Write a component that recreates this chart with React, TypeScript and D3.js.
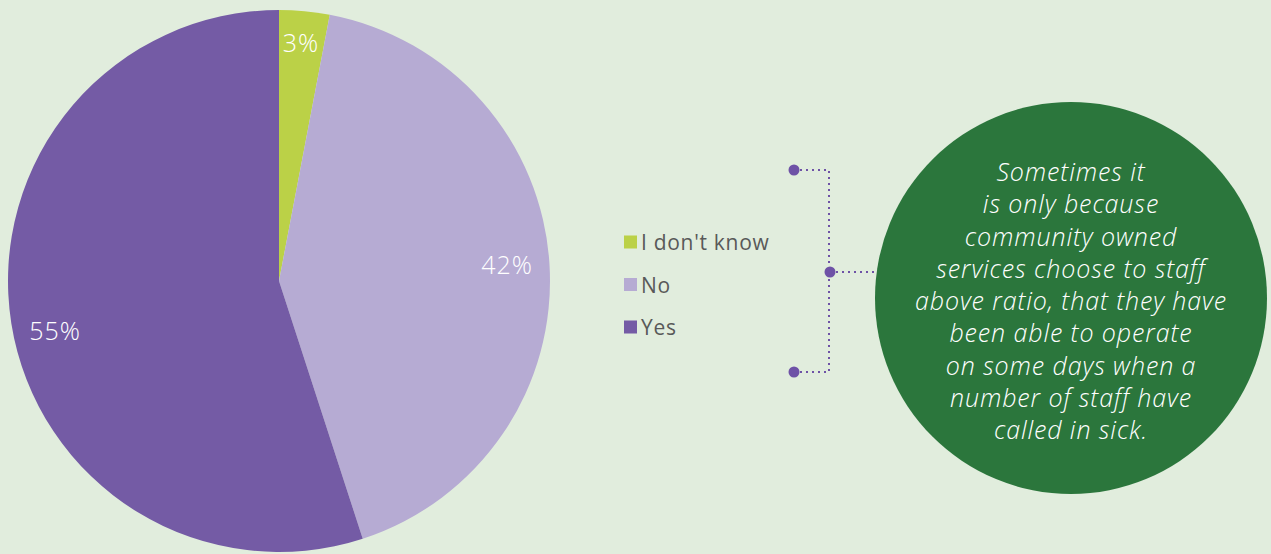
import React from "react";
import * as d3 from "d3";

const categories = ["I don't know", "No", "Yes"];
const values = [3, 42, 55];
const colors = ["#BBD147", "#B6ABD3", "#745BA5"];
const quoteLines = [
  "Sometimes it",
  "is only because",
  "community owned",
  "services choose to staff",
  "above ratio, that they have",
  "been able to operate",
  "on some days when a",
  "number of staff have",
  "called in sick.",
];

const W = 1271;
const H = 554;

export default function App() {
  const cx = 279, cy = 281, r = 271;
  const pie = d3.pie<number>().sort(null).value((d) => d)(values);
  const arc = d3.arc<d3.PieArcDatum<number>>().innerRadius(0).outerRadius(r);
  const labelPos = [
    [301, 42],
    [507, 264],
    [55, 330],
  ];
  const legendY = d3.scalePoint<string>().domain(categories).range([242, 327]);
  const lineY = d3.scaleLinear().domain([0, quoteLines.length - 1]).range([171, 429]);
  const font = "'Open Sans', Lato, sans-serif";
  const purple = "#6E52A6";
  return (
    <div style={{ position: "absolute", left: 0, top: 0 }}>
      <svg width={W} height={H} style={{ display: "block", background: "#E1EDDD" }}>
        <g transform={`translate(${cx},${cy})`}>
          {pie.map((p, i) => (
            <path key={i} d={arc(p) || ""} fill={colors[i]} />
          ))}
        </g>
        {pie.map((p, i) => (
          <text
            key={i}
            x={labelPos[i][0]}
            y={labelPos[i][1]}
            textAnchor="middle"
            dominantBaseline="central"
            fill="#fff"
            fontFamily={font}
            fontWeight={300}
            fontSize={25}
            letterSpacing={1}
          >
            {Math.round(p.data)}%
          </text>
        ))}
        {categories.map((c, i) => (
          <g key={c}>
            <rect x={624} y={legendY(c)! - 6.5} width={13} height={13} fill={colors[i]} />
            <text
              x={641}
              y={legendY(c)!}
              dominantBaseline="central"
              fill="#595959"
              fontFamily={font}
              fontSize={21}
              letterSpacing={0.7}
            >
              {c}
            </text>
          </g>
        ))}
        <g stroke={purple} strokeWidth={2} strokeDasharray="2 4" fill="none">
          <polyline points="794,170 829,170 829,372 794,372" />
          <line x1={830} y1={272} x2={880} y2={272} />
        </g>
        <g fill={purple}>
          <circle cx={794} cy={170} r={5.5} />
          <circle cx={830} cy={272} r={5.5} />
          <circle cx={794} cy={372} r={5.5} />
        </g>
        <circle cx={1071} cy={298} r={196} fill="#2B763C" />
        {quoteLines.map((l, i) => (
          <text
            key={i}
            x={1071}
            y={lineY(i)}
            textAnchor="middle"
            dominantBaseline="central"
            fill="#fff"
            fontFamily={font}
            fontStyle="italic"
            fontWeight={300}
            fontSize={25}
            letterSpacing={0.9}
          >
            {l}
          </text>
        ))}
      </svg>
    </div>
  );
}
